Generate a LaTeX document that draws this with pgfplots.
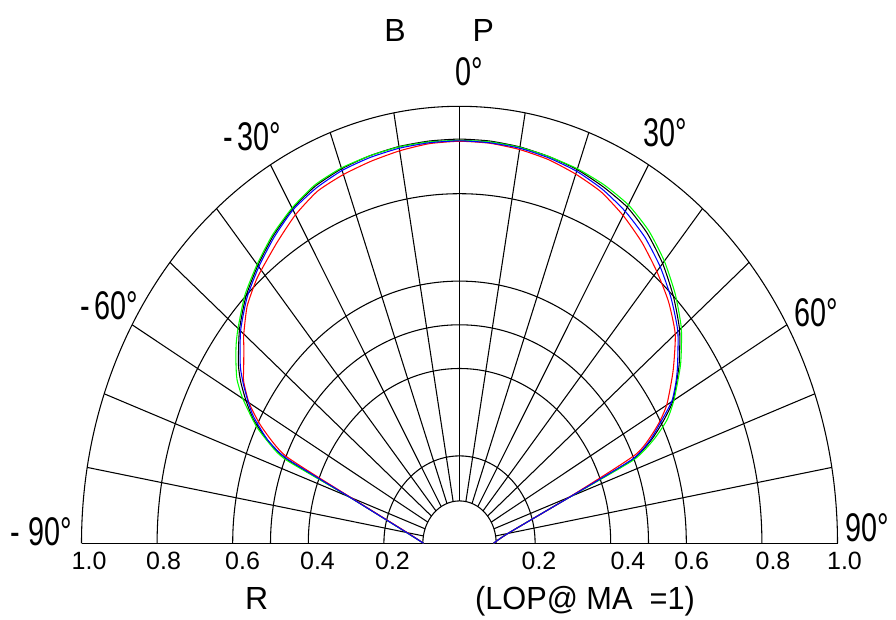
\documentclass[border=0pt]{standalone}
\usepackage{pgfplots}
\pgfplotsset{compat=1.18}
\usepackage{pgfplotstable}
\usepackage{fontspec}
\setmainfont{Liberation Sans}
\usepackage{graphicx}

% angle (deg, 0 = up) and relative intensity
\pgfplotstableread{
a r
-90 0.095
-80 0.142
-70 0.31
-67.2 0.494
-65 0.562
-62.5 0.615
-60 0.652
-57.5 0.686
-55 0.714
-50 0.760
-45 0.799
-40 0.830
-35 0.859
-30 0.884
-25 0.902
-20 0.912
-15 0.918
-10 0.922
-5 0.924
0 0.925
5 0.924
10 0.921
15 0.916
20 0.910
25 0.900
30 0.888
35 0.866
40 0.836
45 0.800
50 0.760
55 0.709
60 0.652
62.6 0.607
65 0.560
67.3 0.496
70 0.313
80 0.13
90 0.09
}\tabblack

\pgfplotstableread{
a r
-90 0.095
-80 0.142
-70 0.31
-67.5 0.49
-66.4 0.533
-63.6 0.599
-60 0.662
-57.5 0.698
-55 0.722
-52.5 0.745
-50 0.765
-45 0.803
-40 0.833
-35 0.862
-30 0.886
-25 0.905
-20 0.914
-15 0.918
-10 0.921
-5 0.922
0 0.922
5 0.922
10 0.920
15 0.916
20 0.912
25 0.905
30 0.894
35 0.873
40 0.843
45 0.807
50 0.766
55 0.714
60 0.655
62.8 0.617
65.25 0.565
67.5 0.498
70 0.313
80 0.13
90 0.09
}\tabgreen

\pgfplotstableread{
a r
-90 0.095
-80 0.14
-70 0.305
-66.5 0.502
-63 0.588
-60 0.643
-57 0.681
-55 0.697
-52 0.724
-50 0.745
-46 0.781
-42 0.806
-40 0.816
-35 0.841
-30 0.868
-25 0.889
-20 0.898
-15 0.905
-10 0.912
-5 0.918
0 0.920
5 0.919
10 0.915
15 0.909
20 0.899
25 0.887
30 0.866
35 0.841
40 0.812
45 0.782
50 0.745
55 0.690
60 0.633
63 0.585
66.4 0.51
70 0.31
80 0.13
90 0.09
}\tabred

\pgfplotstableread{
a r
-90 0.095
-80 0.142
-70 0.31
-67 0.497
-65 0.560
-62 0.617
-60 0.645
-57.5 0.678
-55 0.708
-50 0.756
-45 0.795
-40 0.826
-35 0.855
-30 0.881
-25 0.897
-20 0.908
-15 0.914
-10 0.918
-5 0.920
0 0.921
5 0.920
10 0.918
15 0.913
20 0.906
25 0.894
30 0.877
35 0.855
40 0.826
45 0.792
50 0.754
55 0.704
57.5 0.678
60 0.648
62.5 0.600
65 0.555
67.2 0.495
70 0.313
80 0.13
90 0.09
}\tabblue

\begin{document}
\begin{tikzpicture}
\begin{axis}[
  x=283.5pt, y=327.75pt,
  xmin=-1.21561, xmax=1.15476,
  ymin=-0.17323, ymax=1.24325,
  hide axis, clip=false,
]
% grid arcs
\pgfplotsinvokeforeach{0.2,0.4,0.5,0.6,0.8,1.0,0.097}{
  \draw[black, line width=0.8pt] (axis cs:-#1,0) arc[start angle=180, end angle=0, x radius=#1*283.5pt, y radius=#1*327.75pt];
}
% radial lines
\pgfplotsinvokeforeach{-80,-70,-60,-50,-40,-30,-20,-10,0,10,20,30,40,50,60,70,80}{
  \draw[black, line width=0.8pt] (axis cs:{0.097*sin(#1)},{0.097*cos(#1)}) -- (axis cs:{sin(#1)},{cos(#1)});
}
\draw[black, line width=0.8pt] (axis cs:-1,0) -- (axis cs:1,0);

% data curves
\addplot[black, line width=0.8pt, smooth, tension=0.35] table[x expr=\thisrow{r}*sin(\thisrow{a}), y expr=\thisrow{r}*cos(\thisrow{a})] {\tabblack};
\addplot[green, line width=0.8pt, smooth, tension=0.35] table[x expr=\thisrow{r}*sin(\thisrow{a}), y expr=\thisrow{r}*cos(\thisrow{a})] {\tabgreen};
\addplot[red, line width=0.8pt, smooth, tension=0.35] table[x expr=\thisrow{r}*sin(\thisrow{a}), y expr=\thisrow{r}*cos(\thisrow{a})] {\tabred};
\addplot[blue, line width=0.8pt, smooth, tension=0.35] table[x expr=\thisrow{r}*sin(\thisrow{a}), y expr=\thisrow{r}*cos(\thisrow{a})] {\tabblue};

% titles
\node[anchor=base, font=\fontsize{24pt}{26pt}\selectfont] at (axis cs:-0.1706,1.1478) {B};
\node[anchor=base, font=\fontsize{24pt}{26pt}\selectfont] at (axis cs:0.063,1.1478) {P};

% angle labels
\begin{scope}[every node/.style={anchor=base, inner sep=0pt, font=\fontsize{30pt}{32pt}\selectfont}]
\node at (axis cs:0.0265,1.0465) {\scalebox{0.72}[1]{0°}};
\node at (axis cs:-0.5476,0.8998) {\scalebox{0.72}[1]{-\hspace{0.14em}30°}};
\node at (axis cs:0.545,0.9076) {\scalebox{0.72}[1]{30°}};
\node at (axis cs:-0.9272,0.511) {\scalebox{0.72}[1]{-\hspace{0.14em}60°}};
\node at (axis cs:0.9431,0.4957) {\scalebox{0.72}[1]{60°}};
\node at (axis cs:-1.1071,-0.0039) {\scalebox{0.72}[1]{-\hspace{0.3em}90°}};
\node at (axis cs:1.0794,0.0037) {\scalebox{0.72}[1]{90°}};
\end{scope}

% radius tick labels
\begin{scope}[every node/.style={anchor=base, inner sep=0pt, font=\fontsize{18.75pt}{20pt}\selectfont}]
\node at (axis cs:-0.980,-0.0595) {1.0};
\node at (axis cs:-0.7828,-0.0595) {0.8};
\node at (axis cs:-0.574,-0.0595) {0.6};
\node at (axis cs:-0.3757,-0.0595) {0.4};
\node at (axis cs:-0.1772,-0.0595) {0.2};
\node at (axis cs:0.2103,-0.0595) {0.2};
\node at (axis cs:0.4458,-0.0595) {0.4};
\node at (axis cs:0.6143,-0.0595) {0.6};
\node at (axis cs:0.8294,-0.0595) {0.8};
\node at (axis cs:1.0185,-0.0595) {1.0};
\end{scope}

\node[anchor=base, inner sep=0pt, font=\fontsize{24pt}{26pt}\selectfont] at (axis cs:-0.5365,-0.1526) {R};
\node[anchor=base, inner sep=0pt, font=\fontsize{24pt}{26pt}\selectfont] at (axis cs:0.332,-0.1526) {\scalebox{0.96}[1]{(LOP@ MA\ \ =1)}};

\coordinate (bbSW) at (axis cs:-1.21561,-0.17323);
\coordinate (bbNE) at (axis cs:1.15476,1.24325);
\end{axis}
\pgfresetboundingbox
\useasboundingbox (bbSW) rectangle (bbNE);
\end{tikzpicture}
\end{document}
